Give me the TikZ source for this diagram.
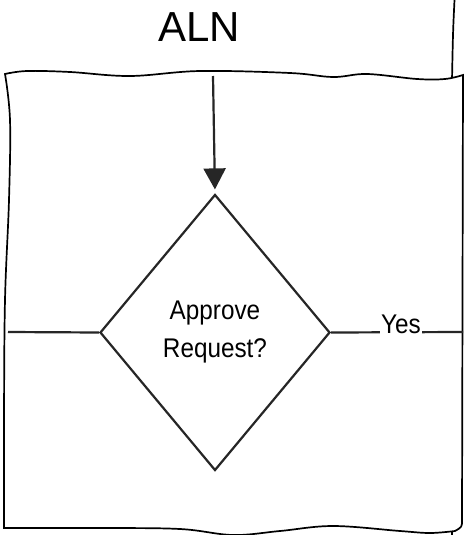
\documentclass[tikz,border=0pt]{standalone}
\usepackage{fontspec}
\setmainfont{Liberation Sans}
\newfontfamily\narrowsans[FakeStretch=0.9]{Liberation Sans}
\usetikzlibrary{shapes.geometric,arrows.meta}
\tikzset{
  lane/.style={line width=1.7pt, draw=black, fill=white},
  decision/.style={diamond, draw=black!85, line width=2.2pt, minimum width=230pt, minimum height=276pt, inner sep=0pt, align=center, font=\narrowsans\fontsize{27}{38}\selectfont},
  flow/.style={line width=2.2pt, draw=black!85},
  arrowflow/.style={flow, -{Triangle[width=22pt,length=21pt]}, shorten >=4pt},
  lbl/.style={fill=white, inner sep=1.5pt, font=\narrowsans\fontsize{27}{30}\selectfont}
}
\begin{document}
\begin{tikzpicture}[x=1pt,y=-1pt]
\useasboundingbox (0,0) rectangle (466,535);
\begin{scope}
\clip (0,0) rectangle (466,535);
% outer lane (only its right edge is visible)
\draw[lane] (-10,-10) -- (455,-10) .. controls (453,30) .. (452,80) -- (452,545) -- (-10,545) -- cycle;
% title
\node (title) at (199,27) {\fontsize{42}{46}\selectfont ALN};
% inner lane box
\draw[lane] plot[smooth, tension=0.6] coordinates {(5,74) (27,71) (70,72) (130,76) (200,71) (290,73) (333,77) (367,74) (417,79) (445,79) (463,75)}
  -- (462,520) .. controls (462,527) .. (455,531)
  -- plot[smooth, tension=0.6] coordinates {(455,531) (430,533) (400,531) (333,526) (280,531) (233,535) (180,529) (100,528) (4,528)}
  -- plot[smooth, tension=0.6] coordinates {(4,528) (4,420) (5,300) (9,200) (10,120) (5,74)} -- cycle;
\end{scope}
% anchor points on the lane box
\coordinate (inTop) at (213,76);
\coordinate (inLeft) at (8,332);
\coordinate (inRight) at (463,332);
% decision
\node[decision] (dec) at (215,332.5) {Approve\\Request?};
% connectors
\draw[arrowflow] (inTop) -- (dec.north);
\draw[flow] (inLeft) -- (dec.west);
\draw[flow] (dec.east) -- node[lbl, pos=0.53, yshift=8pt] (yes) {Yes} (inRight);
\end{tikzpicture}
\end{document}
